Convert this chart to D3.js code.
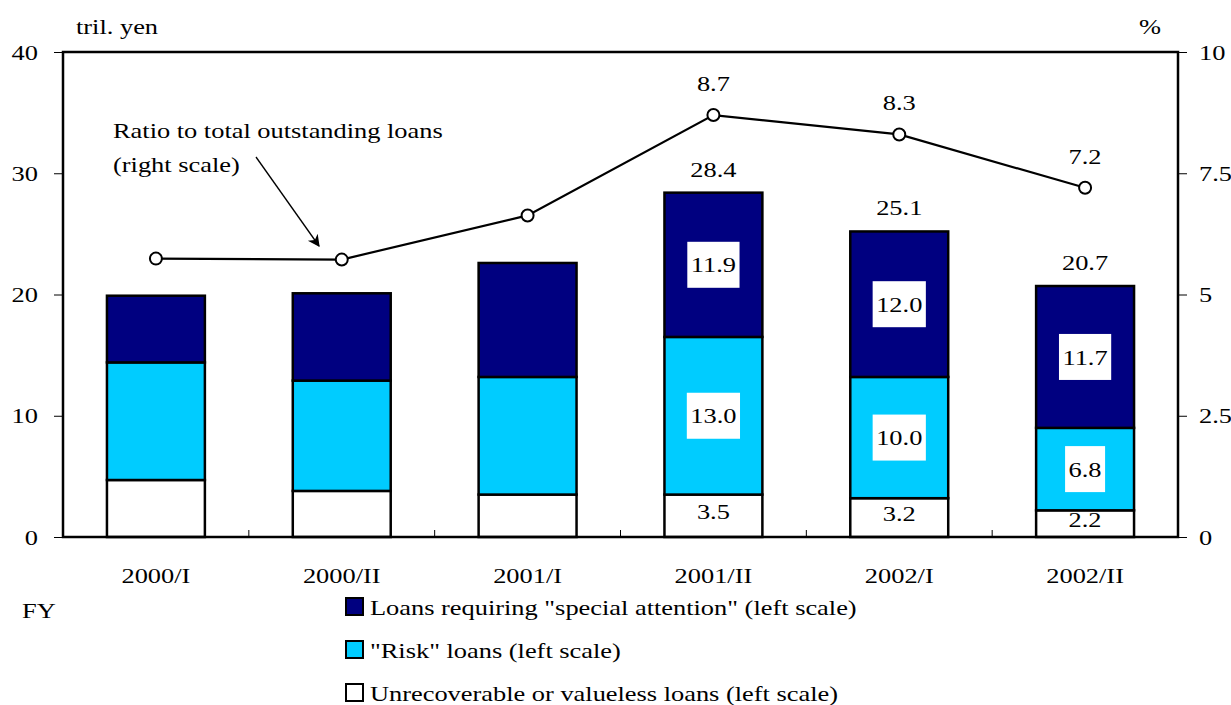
<!DOCTYPE html>
<html>
<head>
<meta charset="utf-8">
<script src="https://cdn.jsdelivr.net/npm/d3@7"></script>
<style>
  html, body { margin: 0; padding: 0; background: #fff; }
  svg { display: block; }
</style>
</head>
<body>
<svg id="chart" width="1231" height="705"></svg>
<script>
// Fiscal half-years
const categories = ["2000/I", "2000/II", "2001/I", "2001/II", "2002/I", "2002/II"];
// Trillion yen, stacked bottom to top
const unrecoverable = [4.7, 3.8, 3.5, 3.5, 3.2, 2.2];
const riskLoans = [9.7, 9.1, 9.7, 13.0, 10.0, 6.8];
const specialAttention = [5.5, 7.2, 9.4, 11.9, 12.0, 11.7];
// Totals printed above the later bars
const totalLabels = [null, null, null, "28.4", "25.1", "20.7"];
// Ratio to total outstanding loans, percent (right scale)
const ratio = [5.74, 5.72, 6.63, 8.7, 8.3, 7.2];
const ratioLabels = [null, null, null, "8.7", "8.3", "7.2"];
// Which segment values get printed
const showUnrecLabel = [false, false, false, true, true, true];
const showRiskLabel = [false, false, false, true, true, true];
const showSpecialLabel = [false, false, false, true, true, true];
// Axis ticks
const leftTicks = [0, 10, 20, 30, 40];
const rightTicks = [0, 2.5, 5, 7.5, 10];
// Legend entries
const seriesNames = [
  'Loans requiring "special attention" (left scale)',
  '"Risk" loans (left scale)',
  'Unrecoverable or valueless loans (left scale)'
];
const seriesColors = ["#000080", "#00ccff", "#ffffff"];

const FONT = "'Liberation Serif', 'Times New Roman', Times, serif";
const FS = 22;
const STRETCH = 1.2;   // wide Times-style lettering
const svg = d3.select("#chart").attr("font-family", FONT);
const plotLeft = 63, plotRight = 1178, plotTop = 52, plotBottom = 537;

const x = d3.scaleBand().domain(categories).range([plotLeft, plotRight])
  .paddingInner(0.473).paddingOuter(0.2365);
const y = d3.scaleLinear().domain([0, 40]).range([plotBottom, plotTop]);
const yr = d3.scaleLinear().domain([0, 10]).range([plotBottom, plotTop]);

// Stacked data
const rows = categories.map((c, i) => ({
  cat: c, unrec: unrecoverable[i], risk: riskLoans[i], special: specialAttention[i]
}));
const keys = ["unrec", "risk", "special"];
const keyColor = { unrec: "#ffffff", risk: "#00ccff", special: "#000080" };
const stack = d3.stack().keys(keys)(rows);

// Bars
const layers = svg.append("g").selectAll("g").data(stack).join("g")
  .attr("fill", d => keyColor[d.key]);
layers.selectAll("rect").data(d => d).join("rect")
  .attr("x", d => x(d.data.cat))
  .attr("width", x.bandwidth())
  .attr("y", d => y(d[1]))
  .attr("height", d => y(d[0]) - y(d[1]))
  .attr("stroke", "#000").attr("stroke-width", 2.5);

// Segment value labels
const fmt = d3.format(".1f");
function boxedLabel(cx, cy, text) {
  const g = svg.append("g");
  const t = g.append("text").attr("x", cx).attr("y", cy)
    .attr("text-anchor", "middle").attr("dominant-baseline", "central")
    .attr("font-size", FS).text(text);
  const bb = t.node().getBBox();
  const w = bb.width * STRETCH + 7;
  g.insert("rect", "text")
    .attr("x", cx - w / 2).attr("y", cy - 23)
    .attr("width", w).attr("height", 46)
    .attr("fill", "#fff");
}
rows.forEach((r, i) => {
  const cx = x(r.cat) + x.bandwidth() / 2;
  if (showSpecialLabel[i]) {
    const s0 = r.unrec + r.risk, s1 = s0 + r.special;
    boxedLabel(cx, y((s0 + s1) / 2), fmt(r.special));
  }
  if (showRiskLabel[i]) {
    boxedLabel(cx, y(r.unrec + r.risk / 2), fmt(r.risk));
  }
  if (showUnrecLabel[i]) {
    svg.append("text").attr("x", cx).attr("y", y(r.unrec / 2) - 4)
      .attr("text-anchor", "middle").attr("dominant-baseline", "central")
      .attr("font-size", FS).text(fmt(r.unrec));
  }
  if (totalLabels[i]) {
    svg.append("text").attr("x", cx).attr("y", y(r.unrec + r.risk + r.special) - 16)
      .attr("text-anchor", "middle").attr("font-size", FS).text(totalLabels[i]);
  }
});

// Frame
svg.append("rect").attr("x", plotLeft).attr("y", plotTop)
  .attr("width", plotRight - plotLeft).attr("height", plotBottom - plotTop)
  .attr("fill", "none").attr("stroke", "#000").attr("stroke-width", 2.5);

// Left axis
const gl = svg.append("g").attr("transform", `translate(${plotLeft},0)`)
  .call(d3.axisLeft(y).tickValues(leftTicks).tickSize(9).tickPadding(16).tickFormat(d => String(d)));
gl.select(".domain").remove();

// Right axis
const gr = svg.append("g").attr("transform", `translate(${plotRight},0)`)
  .call(d3.axisRight(yr).tickValues(rightTicks).tickSize(9).tickPadding(12).tickFormat(d => String(d)));
gr.select(".domain").remove();

// Category axis
const gb = svg.append("g").attr("transform", `translate(0,${plotBottom})`)
  .call(d3.axisBottom(x).tickSize(0).tickPadding(30));
gb.select(".domain").remove();

[gl, gr, gb].forEach(g => {
  g.attr("font-family", FONT).attr("font-size", FS);
  g.selectAll("text").attr("fill", "#000");
});

// Small inner ticks between categories
const step = x.step();
const bounds = categories.slice(1).map(c => x(c) - step * x.paddingInner() / 2);
svg.append("g").selectAll("line").data(bounds).join("line")
  .attr("x1", d => d).attr("x2", d => d)
  .attr("y1", plotBottom).attr("y2", plotBottom - 7)
  .attr("stroke", "#000").attr("stroke-width", 1);

// Ratio line
const line = d3.line()
  .x((d, i) => x(categories[i]) + x.bandwidth() / 2)
  .y(d => yr(d));
svg.append("path").datum(ratio).attr("d", line)
  .attr("fill", "none").attr("stroke", "#000").attr("stroke-width", 2.2);
svg.append("g").selectAll("circle").data(ratio).join("circle")
  .attr("cx", (d, i) => x(categories[i]) + x.bandwidth() / 2)
  .attr("cy", d => yr(d)).attr("r", 6)
  .attr("fill", "#fff").attr("stroke", "#000").attr("stroke-width", 2);
ratio.forEach((v, i) => {
  if (!ratioLabels[i]) return;
  svg.append("text").attr("x", x(categories[i]) + x.bandwidth() / 2)
    .attr("y", yr(v) - 24).attr("text-anchor", "middle")
    .attr("font-size", FS).text(ratioLabels[i]);
});

// Unit labels
svg.append("text").attr("x", 76).attr("y", 34).attr("font-size", FS).text("tril. yen");
svg.append("text").attr("x", 1139).attr("y", 34).attr("font-size", FS).text("%");
svg.append("text").attr("x", 22).attr("y", 618).attr("font-size", FS).text("FY");

// Annotation with arrow
svg.append("defs").append("marker").attr("id", "arrowhead")
  .attr("viewBox", "0 0 10 10").attr("refX", 9).attr("refY", 5)
  .attr("markerWidth", 17).attr("markerHeight", 12)
  .attr("markerUnits", "userSpaceOnUse").attr("orient", "auto")
  .append("path").attr("d", "M0,0 L10,5 L0,10 L3,5 Z").attr("fill", "#000");
svg.append("text").attr("x", 113).attr("y", 138).attr("font-size", FS)
  .text("Ratio to total outstanding loans");
svg.append("text").attr("x", 113).attr("y", 172).attr("font-size", FS)
  .text("(right scale)");
svg.append("line").attr("x1", 256).attr("y1", 157).attr("x2", 319).attr("y2", 246)
  .attr("stroke", "#000").attr("stroke-width", 1.3).attr("marker-end", "url(#arrowhead)");

// Legend
const legend = svg.append("g").selectAll("g").data(seriesNames).join("g")
  .attr("transform", (d, i) => `translate(346,${598 + i * 43})`);
legend.append("rect").attr("width", 17).attr("height", 17)
  .attr("fill", (d, i) => seriesColors[i]).attr("stroke", "#000").attr("stroke-width", 2);
legend.append("text").attr("x", 24).attr("y", 9).attr("dominant-baseline", "central")
  .attr("font-size", FS).text(d => d);

// Widen every label horizontally about its own anchor point
svg.selectAll("text").each(function () {
  const ax = +(this.getAttribute("x") || 0);
  this.setAttribute("transform", `translate(${ax},0) scale(${STRETCH},1) translate(${-ax},0)`);
});
</script>
</body>
</html>
